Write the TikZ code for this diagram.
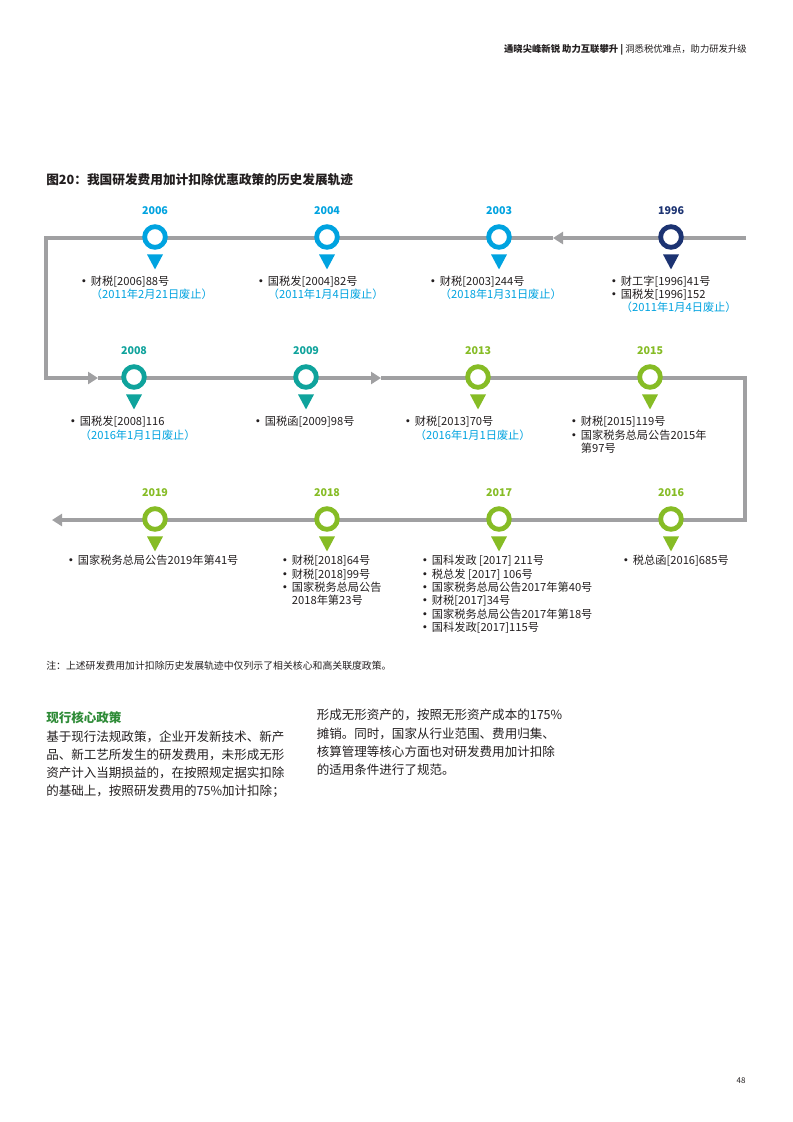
\documentclass[tikz,border=0pt]{standalone}
\usepackage{fontspec}
\setmainfont{Noto Sans CJK SC}
\usepackage{xcolor}
\usetikzlibrary{positioning,arrows.meta}

\definecolor{lgray}{HTML}{A0A0A2}
\definecolor{lblue}{HTML}{00A3E0}
\definecolor{navy}{HTML}{1C3372}
\definecolor{teal}{HTML}{0FA39C}
\definecolor{lgreen}{HTML}{86BC25}
\definecolor{dgreen}{HTML}{2E8B37}
\definecolor{txt}{HTML}{231F20}

\newcommand{\bl}{\makebox[9.5pt][l]{\bfseries •}}
\newcommand{\ind}{\hspace*{9.5pt}}

\begin{document}
\begin{tikzpicture}[x=0.75pt,y=-0.75pt,
  tline/.style={draw=lgray, line width=3.2pt},
  tip/.style={-{Triangle[length=7.5pt,width=9pt]}},
  ring/.style={circle, draw=#1, fill=white, line width=3.6pt, inner sep=0pt, minimum size=15.5pt},
  yr/.style={text=#1, font=\fontsize{8}{9}\selectfont\bfseries},
  items/.style={align=left, anchor=north west, inner sep=0pt, text=txt, font=\fontsize{8.4}{10}\selectfont},
  body/.style={align=left, anchor=north west, inner sep=0pt, text=txt, font=\fontsize{9.4}{13.6}\selectfont}]
\fill[white] (0,0) rectangle (793,1122);
\useasboundingbox (0,0) rectangle (793,1122);

% header and caption
\node[anchor=east, inner sep=0pt, text=txt, font=\fontsize{7}{8}\selectfont] (hdr) at (747,50)
  {{\bfseries 通晓尖峰新锐 助力互联攀升 | }洞悉税优难点，助力研发升级};
\node[anchor=west, inner sep=0pt, text=txt, font=\fontsize{9.5}{11}\selectfont\bfseries] (cap) at (46,180)
  {图20：我国研发费用加计扣除优惠政策的历史发展轨迹};

% timeline
\coordinate (r1e) at (746,238);
\coordinate (c1) at (46,238);
\coordinate (c2) at (46,378);
\coordinate (c3) at (745,378);
\coordinate (c4) at (745,520);
\coordinate (r3e) at (52,520);
\coordinate (a1) at (553,238);
\coordinate (a2) at (98,378);
\coordinate (a3) at (381,378);

\draw[tline,tip] (r1e) -- (a1);
\draw[tline,tip] (a1) -- (c1) -- (c2) -- (a2);
\draw[tline,tip] (a2) -- (a3);
\draw[tline,tip] (a3) -- (c3) -- (c4) -- (r3e);

\foreach \nm/\px/\py/\col in {2006/155/237/lblue, 2004/327/237/lblue, 2003/499/237/lblue,
    1996/671/237/navy, 2008/134/377/teal, 2009/306/377/teal, 2013/478/377/lgreen,
    2015/650/377/lgreen, 2019/155/519/lgreen, 2018/327/519/lgreen, 2017/499/519/lgreen,
    2016/671/519/lgreen}{
  \node[ring=\col] (m\nm) at (\px,\py) {};
  \node[yr=\col] (y\nm) at (\px,\py-26) {\nm};
  \fill[\col] ([yshift=-3.5pt]m\nm.south) ++(-6pt,0) -- ++(12pt,0) -- ++(-6pt,-11.25pt) -- cycle;
}

% row 1
\node[items] (i2006) at (78,275.5) {\bl 财税[2006]88号\\ \ind{\color{lblue}（2011年2月21日废止）}};
\node[items] (i2004) at (255,275.5) {\bl 国税发[2004]82号\\ \ind{\color{lblue}（2011年1月4日废止）}};
\node[items] (i2003) at (427,275.5) {\bl 财税[2003]244号\\ \ind{\color{lblue}（2018年1月31日废止）}};
\node[items] (i1996) at (608,275.5) {\bl 财工字[1996]41号\\ \bl 国税发[1996]152\\ \ind{\color{lblue}（2011年1月4日废止）}};

% row 2
\node[items] (i2008) at (67,416) {\bl 国税发[2008]116\\ \ind{\color{lblue}（2016年1月1日废止）}};
\node[items] (i2009) at (252,416) {\bl 国税函[2009]98号};
\node[items] (i2013) at (402,416) {\bl 财税[2013]70号\\ \ind{\color{lblue}（2016年1月1日废止）}};
\node[items] (i2015) at (568,416) {\bl 财税[2015]119号\\ \bl 国家税务总局公告2015年\\ \ind 第97号};

% row 3
\node[items] (i2019) at (65,555) {\bl 国家税务总局公告2019年第41号};
\node[items] (i2018) at (279,555) {\bl 财税[2018]64号\\ \bl 财税[2018]99号\\ \bl 国家税务总局公告\\ \ind 2018年第23号};
\node[items] (i2017) at (419,555) {\bl 国科发政 [2017] 211号\\ \bl 税总发 [2017] 106号\\ \bl 国家税务总局公告2017年第40号\\
  \bl 财税[2017]34号\\ \bl 国家税务总局公告2017年第18号\\ \bl 国科发政[2017]115号};
\node[items] (i2016) at (620,555) {\bl 税总函[2016]685号};

% note and text
\node[anchor=west, inner sep=0pt, text=txt, font=\fontsize{7.4}{9}\selectfont] (note) at (46,666)
  {注：上述研发费用加计扣除历史发展轨迹中仅列示了相关核心和高关联度政策。};
\node[anchor=west, inner sep=0pt, text=dgreen, font=\fontsize{9.4}{11}\selectfont\bfseries] (head) at (46,717.5)
  {现行核心政策};
\node[body] (col1) at (46,730.5) {基于现行法规政策，企业开发新技术、新产\\
  品、新工艺所发生的研发费用，未形成无形\\
  资产计入当期损益的，在按照规定据实扣除\\
  的基础上，按照研发费用的75\%加计扣除；};
\node[body] (col2) at (316.5,709) {形成无形资产的，按照无形资产成本的175\%\\
  摊销。同时，国家从行业范围、费用归集、\\
  核算管理等核心方面也对研发费用加计扣除\\
  的适用条件进行了规范。};
\node[inner sep=0pt, text=txt, font=\fontsize{6}{7}\selectfont] (pg) at (741,1081) {48};
\end{tikzpicture}
\end{document}
